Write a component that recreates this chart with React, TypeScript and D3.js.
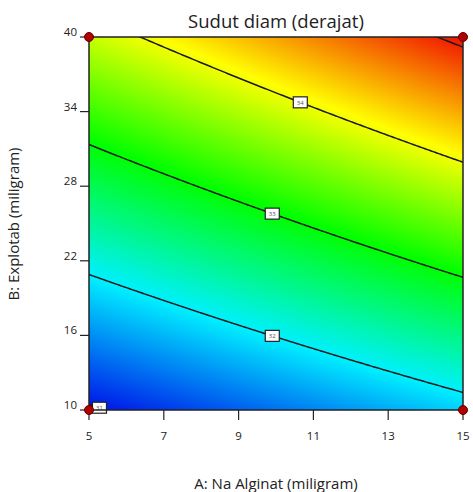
import React, { useEffect, useState } from "react";
import * as d3 from "d3";

// Factor ranges (actual units)
const aRange = [5, 15]; // A: Na Alginat (miligram)
const bRange = [10, 40]; // B: Explotab (miligram)

// Tick labels
const aTicks = [5, 7, 9, 11, 13, 15];
const bTicks = [10, 16, 22, 28, 34, 40];

// Two-factor-interaction model in coded terms: intercept, A, B, AB
const modelCoef = [32.93, 0.5375, 1.5275, 0.0925];

// Contour levels and where each label sits along A
const contourLevels = [31, 32, 33, 34, 35];
const labelA = [5.28, 9.9, 9.9, 10.65, null];

// Design points (corners of the factorial)
const designA = [5, 15, 5, 15];
const designB = [10, 10, 40, 40];

const W = 473;
const H = 492;
const left = 89;
const right = 463;
const top = 37;
const bottom = 410;

const codeA = (a: number) => (a - 10) / 5;
const codeB = (b: number) => (b - 25) / 15;

function response(a: number, b: number) {
  const x1 = codeA(a);
  const x2 = codeB(b);
  return modelCoef[0] + modelCoef[1] * x1 + modelCoef[2] * x2 + modelCoef[3] * x1 * x2;
}

// Solve the model for B at a given level and A
function bAtLevel(level: number, a: number) {
  const x1 = codeA(a);
  const x2 = (level - modelCoef[0] - modelCoef[1] * x1) / (modelCoef[2] + modelCoef[3] * x1);
  return x2 * 15 + 25;
}

export default function App() {
  const x = d3.scaleLinear().domain(aRange).range([left, right]);
  const y = d3.scaleLinear().domain(bRange).range([bottom, top]);

  const zMin = response(aRange[0], bRange[0]);
  const zMax = response(aRange[1], bRange[1]);
  const color = d3
    .scaleLinear<string>()
    .domain([0, 0.25, 0.5, 0.75, 1].map((t) => zMin + t * (zMax - zMin)))
    .range(["#0010e8", "#00f0ff", "#00ff00", "#ffff00", "#f01000"])
    .interpolate(d3.interpolateRgb)
    .clamp(true);

  const [surface, setSurface] = useState<string>("");

  useEffect(() => {
    const pw = Math.round(right - left);
    const ph = Math.round(bottom - top);
    const canvas = document.createElement("canvas");
    canvas.width = pw;
    canvas.height = ph;
    const ctx = canvas.getContext("2d");
    if (!ctx) return;
    const img = ctx.createImageData(pw, ph);
    for (let j = 0; j < ph; j++) {
      const b = y.invert(top + j + 0.5);
      for (let i = 0; i < pw; i++) {
        const a = x.invert(left + i + 0.5);
        const c = d3.rgb(color(response(a, b)));
        const k = (j * pw + i) * 4;
        img.data[k] = c.r;
        img.data[k + 1] = c.g;
        img.data[k + 2] = c.b;
        img.data[k + 3] = 255;
      }
    }
    ctx.putImageData(img, 0, 0);
    setSurface(canvas.toDataURL());
  }, []);

  const aSamples = d3.range(aRange[0], aRange[1] + 0.001, 0.05);
  const contourPath = (level: number) =>
    d3
      .line<number>()
      .x((a) => x(a))
      .y((a) => y(bAtLevel(level, a)))(aSamples) || "";

  const font = "'Open Sans', 'Noto Sans', sans-serif";

  return (
    <svg width={W} height={H} style={{ position: "absolute", left: 0, top: 0 }} fontFamily={font}>
      <defs>
        <clipPath id="plot-clip">
          <rect x={left} y={top} width={right - left} height={bottom - top} />
        </clipPath>
      </defs>
      <text x={276} y={28} textAnchor="middle" fontSize={18.5} fill="#222">
        Sudut diam (derajat)
      </text>
      {surface && (
        <image href={surface} x={left} y={top} width={right - left} height={bottom - top} preserveAspectRatio="none" />
      )}
      <g clipPath="url(#plot-clip)">
        {contourLevels.map((lv) => (
          <path key={lv} d={contourPath(lv)} fill="none" stroke="#1a1a1a" strokeWidth={1.5} />
        ))}
      </g>
      {contourLevels.map((lv, i) => {
        const a = labelA[i];
        if (a == null) return null;
        const cx = x(a);
        const cy = y(bAtLevel(lv, a));
        return (
          <g key={"lab" + lv} transform={`translate(${cx},${cy})`}>
            <rect x={-7} y={-5.5} width={14} height={11} fill="#fff" stroke="#222" strokeWidth={1.2} />
            <text x={0} y={2.2} textAnchor="middle" fontSize={6} fill="#555">
              {lv}
            </text>
          </g>
        );
      })}
      <rect x={left} y={top} width={right - left} height={bottom - top} fill="none" stroke="#222" strokeWidth={1.5} />
      {aTicks.map((t) => (
        <g key={"xt" + t}>
          <line x1={x(t)} x2={x(t)} y1={bottom} y2={bottom + 10} stroke="#222" strokeWidth={1.2} />
          <text x={x(t)} y={440} textAnchor="middle" fontSize={11.5} fill="#222">
            {t}
          </text>
        </g>
      ))}
      {bTicks.map((t) => (
        <g key={"yt" + t}>
          <line x1={left - 9} x2={left} y1={y(t)} y2={y(t)} stroke="#222" strokeWidth={1.2} />
          <text x={left - 12} y={y(t) - 1} textAnchor="end" fontSize={11.5} fill="#222">
            {t}
          </text>
        </g>
      ))}
      {designA.map((a, i) => (
        <circle key={"dp" + i} cx={x(a)} cy={y(designB[i])} r={4.5} fill="#b00000" stroke="#600000" strokeWidth={1} />
      ))}
      <text x={276} y={489} textAnchor="middle" fontSize={15} fill="#222">
        A: Na Alginat (miligram)
      </text>
      <text transform={`translate(19,224) rotate(-90)`} textAnchor="middle" fontSize={15} fill="#222">
        B: Explotab (miligram)
      </text>
    </svg>
  );
}
